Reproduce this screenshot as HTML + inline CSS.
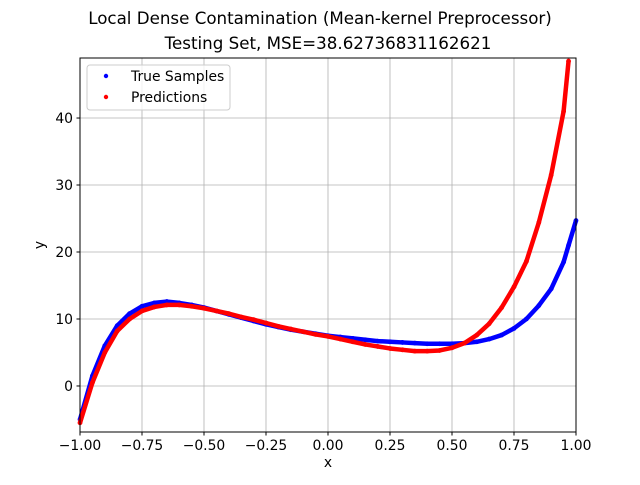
<!DOCTYPE html>
<html><head><meta charset="utf-8"><style>
body{margin:0;background:#fff;font-family:"Liberation Sans","DejaVu Sans",sans-serif}
svg text{font-family:"DejaVu Sans","Liberation Sans",sans-serif;fill:#000}
</style></head><body>
<svg id="chart" width="640" height="480" viewBox="0 0 640 480">
<text x="320" y="24" font-size="16.7" text-anchor="middle">Local Dense Contamination (Mean-kernel Preprocessor)</text>
<text x="328" y="49" font-size="16.7" text-anchor="middle">Testing Set, MSE=38.62736831162621</text>
<g id="grid"></g><g id="marks"></g><g id="axes"></g>
<rect x="80" y="58" width="496" height="374" fill="none" stroke="#000" stroke-width="1"/>
<text x="328" y="467" font-size="13.9" text-anchor="middle">x</text>
<text x="44" y="245" font-size="13.9" text-anchor="middle" transform="rotate(-90 44 245)">y</text>
<g>
<rect x="87" y="65" width="143" height="45" rx="3" fill="#fff" fill-opacity="0.8" stroke="#ccc"/>
<circle cx="106" cy="76" r="2.2" fill="blue"/>
<text x="131" y="81" font-size="13.9">True Samples</text>
<circle cx="106" cy="97" r="2.2" fill="red"/>
<text x="131" y="102" font-size="13.9">Predictions</text>
</g>
</svg>
<script>
const xTicks=[-1.00,-0.75,-0.50,-0.25,0.00,0.25,0.50,0.75,1.00];
const xTickLabels=["−1.00","−0.75","−0.50","−0.25","0.00","0.25","0.50","0.75","1.00"];
const yTicks=[0,10,20,30,40];
const trueX=[-1,-0.95,-0.9,-0.85,-0.8,-0.75,-0.7,-0.65,-0.6,-0.55,-0.5,-0.45,-0.4,-0.35,-0.3,-0.25,-0.2,-0.15,-0.1,-0.05,0,0.05,0.1,0.15,0.2,0.25,0.3,0.35,0.4,0.45,0.5,0.55,0.6,0.65,0.7,0.75,0.8,0.85,0.9,0.95,0.97,1.0];
const trueY=[-5,1.5,6,9,10.8,11.9,12.4,12.6,12.4,12.1,11.7,11.2,10.7,10.2,9.7,9.2,8.8,8.4,8.1,7.8,7.5,7.3,7.1,6.9,6.7,6.6,6.5,6.4,6.3,6.3,6.3,6.4,6.6,7.0,7.6,8.6,10,12,14.5,18.5,21,24.7];
const predX=[-1,-0.95,-0.9,-0.85,-0.8,-0.75,-0.7,-0.65,-0.6,-0.55,-0.5,-0.45,-0.4,-0.35,-0.3,-0.25,-0.2,-0.15,-0.1,-0.05,0,0.05,0.1,0.15,0.2,0.25,0.3,0.35,0.4,0.45,0.5,0.55,0.6,0.65,0.7,0.75,0.8,0.85,0.9,0.95,0.97];
const predY=[-5.5,0.5,5,8.2,10,11.2,11.8,12.1,12.1,11.9,11.6,11.2,10.8,10.3,9.9,9.4,8.9,8.5,8.1,7.7,7.4,7.0,6.6,6.2,5.9,5.6,5.4,5.2,5.2,5.3,5.7,6.4,7.6,9.3,11.7,14.8,18.6,24.4,31.5,41,48.5];
const X0=80,X1=576,Y0=432,Y1=58,xmin=-1,xmax=1,ymin=-6.87,ymax=48.96;
const sx=v=>X0+(v-xmin)/(xmax-xmin)*(X1-X0);
const sy=v=>Y0-(v-ymin)/(ymax-ymin)*(Y0-Y1);
const NS="http://www.w3.org/2000/svg";
function mk(t,a,p){const e=document.createElementNS(NS,t);for(const k in a)e.setAttribute(k,a[k]);p.appendChild(e);return e;}
const grid=document.getElementById('grid'),axes=document.getElementById('axes'),marks=document.getElementById('marks');
xTicks.forEach((v,i)=>{const x=sx(v);
 const g=mk('line',{x1:x,x2:x,y1:Y1,y2:Y0,stroke:'#b0b0b0','stroke-width':0.8},grid);
 
 
 const t=mk('line',{x1:x,x2:x,y1:Y0,y2:Y0+3.5,stroke:'#000'},axes);
 
 
 const l=mk('text',{x:x,y:Y0+18,'font-size':13.9,'text-anchor':'middle'},axes);l.textContent=xTickLabels[i];
 
 
});
yTicks.forEach(v=>{const y=sy(v);
 const g=mk('line',{x1:X0,x2:X1,y1:y,y2:y,stroke:'#b0b0b0','stroke-width':0.8},grid);
 
 
 const t=mk('line',{x1:X0-3.5,x2:X0,y1:y,y2:y,stroke:'#000'},axes);
 
 
 const l=mk('text',{x:X0-7,y:y+5,'font-size':13.9,'text-anchor':'end'},axes);l.textContent=String(v);
 
 
});
function series(xs,ys,color,name){
 const g=mk('g',{},marks);
 
 
 const pts=xs.map((v,i)=>sx(v)+','+sy(ys[i])).join(' ');
 const pl=mk('polyline',{points:pts,fill:'none',stroke:color,'stroke-width':4.5,'stroke-linejoin':'round'},g);
 
 
 xs.forEach((v,i)=>{const c=mk('circle',{cx:sx(v),cy:sy(ys[i]),r:2.4,fill:color},g);
  
  });
}
series(trueX,trueY,'blue','true-samples');
series(predX,predY,'red','predictions');
</script>
</body></html>
